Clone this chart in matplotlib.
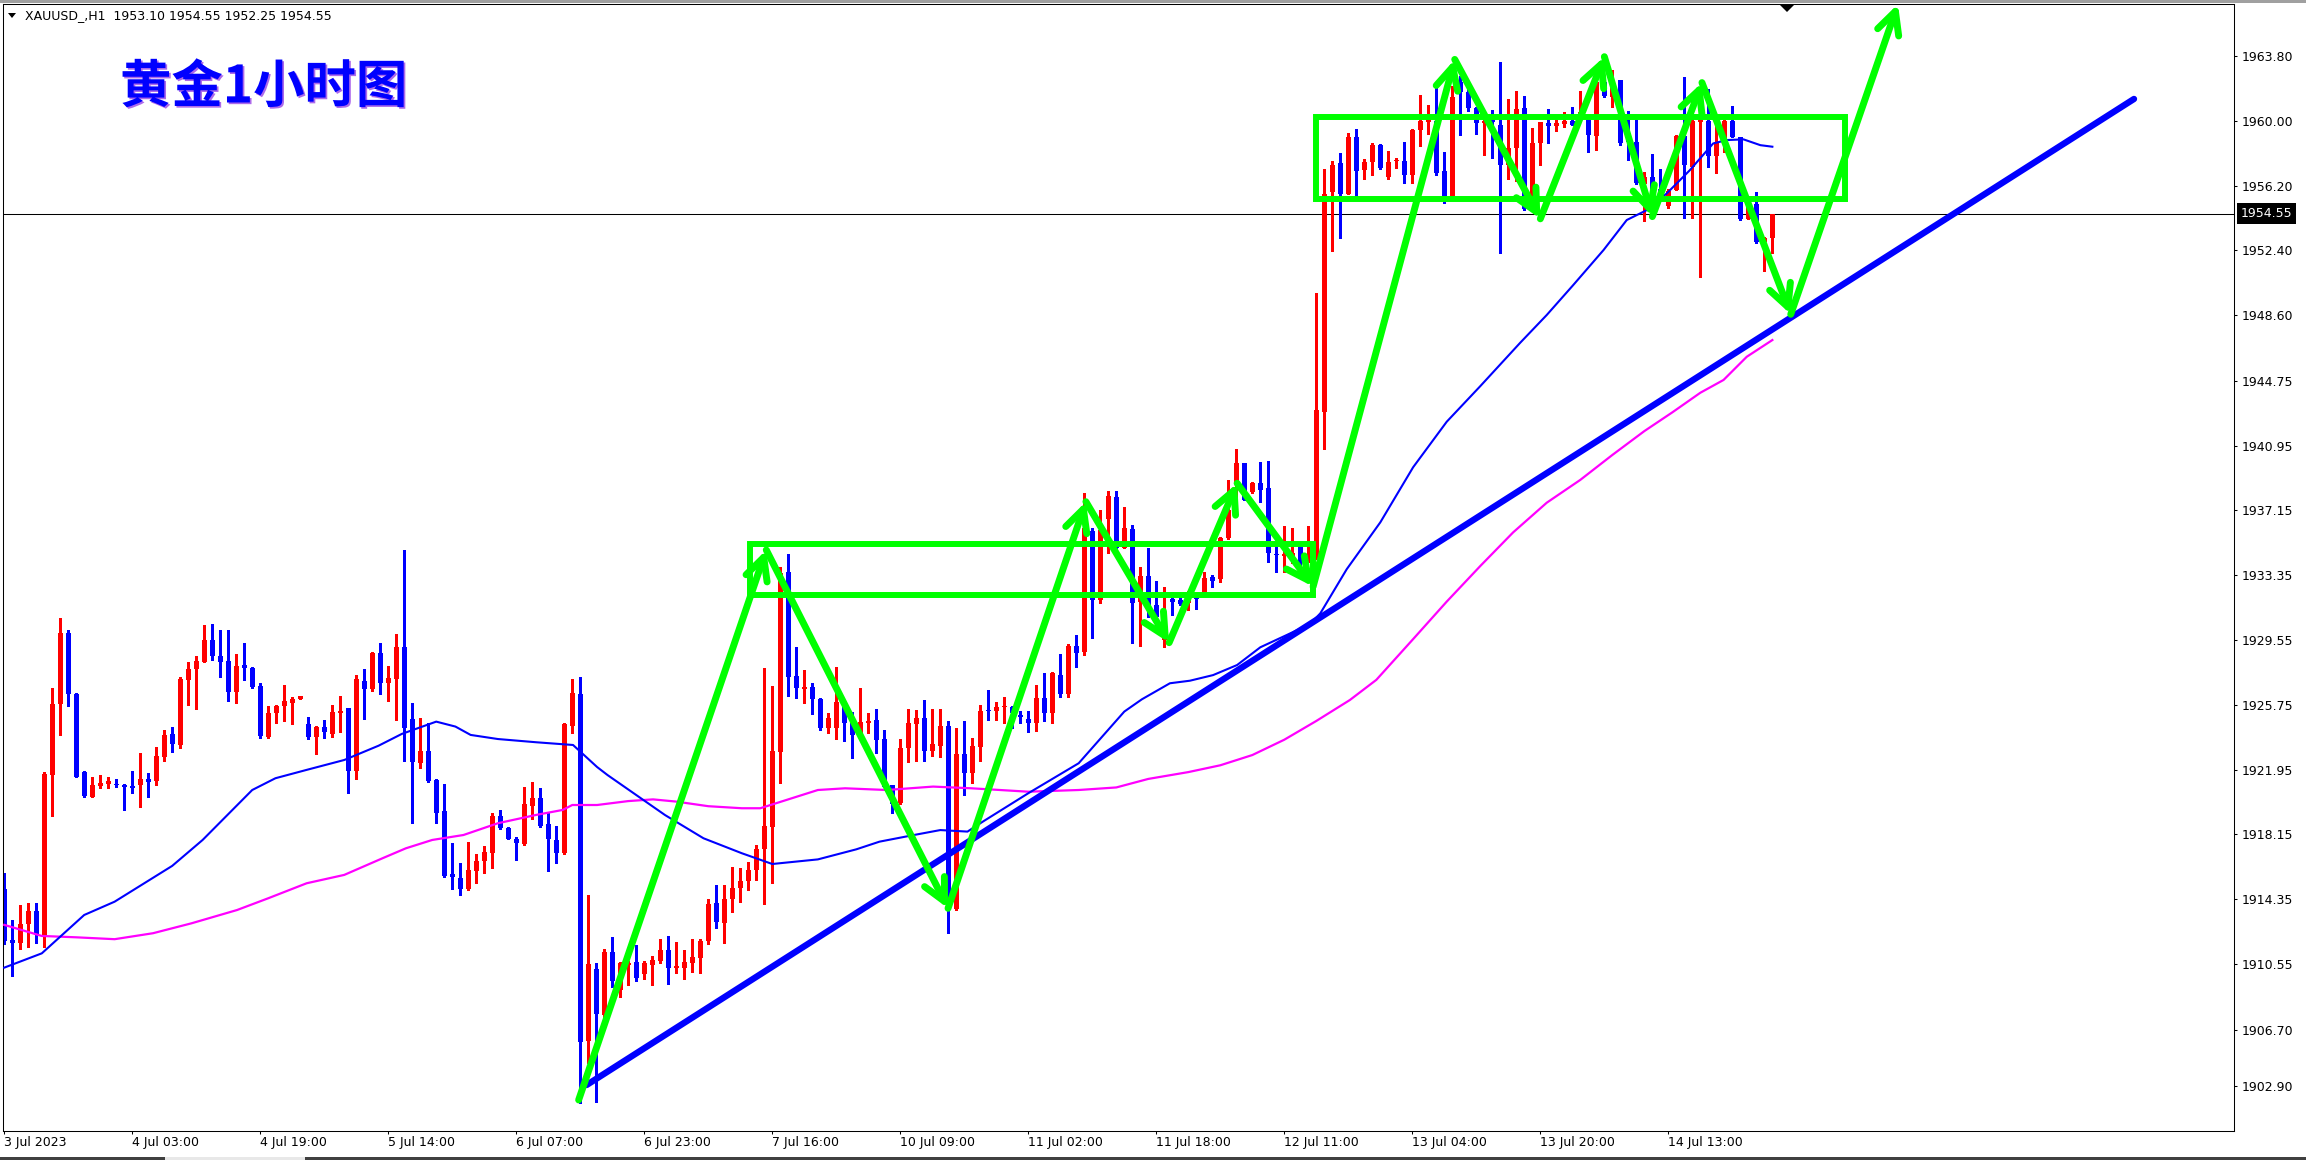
import matplotlib
matplotlib.use("Agg")
import matplotlib.pyplot as plt
import matplotlib.patheffects as pe
from matplotlib.patches import Rectangle, Polygon

# hourly bars, XAUUSD
opens = [
    1914.95, 1911.96, 1911.80, 1912.90, 1913.66, 1912.19, 1921.63, 1925.80, 1929.98, 1926.38,
    1921.81, 1920.36, 1920.99, 1921.10, 1921.10, 1921.05, 1920.99, 1921.07, 1921.40, 1921.28,
    1922.71, 1924.02, 1923.41, 1927.20, 1927.83, 1928.28, 1929.55, 1928.61, 1928.34, 1926.52,
    1928.09, 1927.93, 1926.85, 1923.88, 1925.25, 1925.68, 1925.88, 1926.11, 1924.63, 1923.88,
    1924.47, 1924.02, 1925.29, 1925.54, 1921.89, 1927.17, 1926.66, 1928.81, 1927.05, 1927.26,
    1929.16, 1924.90, 1922.36, 1923.04, 1921.34, 1919.52, 1915.83, 1915.57, 1914.93, 1916.02,
    1916.59, 1917.08, 1919.23, 1918.55, 1917.90, 1917.59, 1919.83, 1920.26, 1918.74, 1917.82,
    1917.04, 1924.53, 1926.38, 1906.04, 1910.25, 1907.55, 1911.25, 1909.02, 1910.49, 1910.66,
    1909.96, 1910.49, 1910.72, 1911.36, 1910.33, 1910.33, 1910.62, 1910.91, 1911.91, 1914.12,
    1912.97, 1914.36, 1915.00, 1915.40, 1916.06, 1917.27, 1918.60, 1923.00, 1933.56, 1927.44,
    1926.65, 1926.77, 1926.09, 1924.39, 1924.39, 1925.80, 1924.76, 1923.98, 1924.70, 1924.86,
    1923.72, 1921.05, 1919.97, 1923.20, 1924.62, 1924.95, 1923.06, 1923.35, 1924.50, 1913.75,
    1922.86, 1921.77, 1923.29, 1925.44, 1925.40, 1925.60, 1925.64, 1925.15, 1924.90, 1924.70,
    1926.13, 1925.25, 1927.50, 1926.38, 1929.20, 1928.86, 1935.94, 1931.90, 1936.64, 1937.91,
    1934.92, 1936.04, 1931.80, 1933.30, 1931.60, 1929.55, 1931.93, 1931.90, 1931.70, 1932.00,
    1932.32, 1933.26, 1933.10, 1935.51, 1938.70, 1939.91, 1938.25, 1938.77, 1938.44, 1934.59,
    1934.47, 1934.43, 1935.02, 1934.34, 1934.47, 1942.93, 1955.80, 1957.54, 1955.68, 1959.05,
    1957.12, 1957.59, 1958.58, 1956.73, 1957.63, 1957.66, 1956.84, 1959.44, 1959.91, 1959.98,
    1957.08, 1955.57, 1962.30, 1961.67, 1960.74, 1959.85, 1960.20, 1959.75, 1957.40, 1958.38,
    1960.73, 1955.64, 1958.67, 1959.85, 1959.71, 1959.81, 1959.98, 1960.20, 1960.04, 1959.10,
    1962.29, 1961.41, 1962.39, 1959.30, 1958.77, 1956.30, 1956.72, 1956.00, 1955.00, 1955.94,
    1959.10, 1957.30, 1959.95, 1960.00, 1957.93, 1958.77, 1960.00, 1959.03, 1954.22, 1955.12,
    1952.90, 1953.10,
]
highs = [
    1915.90, 1913.13, 1914.00, 1914.15, 1914.15, 1921.81, 1926.76, 1930.86, 1930.14, 1926.42,
    1921.87, 1921.54, 1921.63, 1921.54, 1921.40, 1921.09, 1921.87, 1922.94, 1921.77, 1923.30,
    1924.27, 1924.47, 1927.36, 1928.28, 1928.61, 1930.43, 1930.49, 1930.14, 1930.14, 1928.73,
    1929.40, 1927.95, 1927.01, 1925.68, 1925.74, 1926.91, 1926.19, 1926.27, 1925.05, 1924.51,
    1924.86, 1925.74, 1926.27, 1925.58, 1927.50, 1927.85, 1928.87, 1929.40, 1928.03, 1929.90,
    1934.83, 1925.84, 1924.96, 1924.66, 1921.38, 1921.11, 1917.63, 1916.45, 1917.72, 1917.00,
    1917.47, 1919.42, 1919.58, 1918.60, 1918.02, 1920.95, 1921.24, 1920.85, 1919.38, 1918.64,
    1924.70, 1927.28, 1927.40, 1914.60, 1910.62, 1911.42, 1912.11, 1910.68, 1910.70, 1911.66,
    1910.72, 1911.01, 1911.99, 1912.19, 1911.83, 1911.36, 1911.99, 1911.99, 1914.35, 1915.18,
    1915.20, 1916.25, 1916.20, 1916.50, 1917.50, 1927.89, 1926.85, 1933.85, 1934.59, 1929.12,
    1927.79, 1927.05, 1926.15, 1925.25, 1927.98, 1925.87, 1925.35, 1926.71, 1925.25, 1925.48,
    1924.27, 1921.05, 1923.72, 1925.48, 1925.44, 1926.03, 1925.48, 1925.48, 1924.82, 1924.37,
    1924.82, 1923.78, 1925.74, 1926.62, 1925.89, 1926.19, 1925.70, 1925.40, 1925.40, 1926.91,
    1927.60, 1927.69, 1928.73, 1929.31, 1929.84, 1938.15, 1936.14, 1937.17, 1938.29, 1938.29,
    1937.33, 1936.29, 1933.85, 1934.92, 1933.00, 1932.67, 1932.38, 1932.10, 1932.40, 1932.30,
    1933.55, 1933.36, 1935.57, 1938.93, 1940.73, 1939.95, 1938.83, 1940.00, 1940.06, 1935.02,
    1936.23, 1936.10, 1935.12, 1936.23, 1949.89, 1957.19, 1957.66, 1958.12, 1959.28, 1959.51,
    1957.77, 1958.70, 1958.63, 1958.24, 1957.82, 1958.75, 1959.51, 1961.53, 1960.90, 1962.13,
    1958.19, 1962.06, 1962.64, 1961.95, 1960.79, 1960.20, 1960.63, 1963.46, 1961.25, 1961.74,
    1961.45, 1959.55, 1959.94, 1960.67, 1960.04, 1960.53, 1960.82, 1961.74, 1960.34, 1962.78,
    1962.39, 1962.97, 1962.39, 1960.60, 1960.04, 1957.00, 1958.05, 1957.15, 1956.00, 1959.16,
    1962.58, 1961.51, 1961.00, 1961.84, 1960.00, 1960.04, 1960.86, 1959.07, 1955.16, 1955.82,
    1953.20, 1954.55,
]
lows = [
    1911.70, 1909.85, 1911.43, 1911.57, 1911.76, 1911.57, 1919.23, 1923.98, 1925.70, 1921.54,
    1920.32, 1920.32, 1920.85, 1920.85, 1920.91, 1919.58, 1920.56, 1919.78, 1920.36, 1921.05,
    1922.47, 1922.98, 1923.20, 1925.74, 1925.50, 1928.28, 1928.38, 1927.40, 1925.99, 1925.88,
    1927.20, 1926.72, 1923.82, 1923.78, 1924.70, 1924.82, 1924.63, 1926.11, 1923.73, 1922.86,
    1923.78, 1923.88, 1924.18, 1920.60, 1921.40, 1924.92, 1926.56, 1926.38, 1925.99, 1924.86,
    1922.47, 1918.80, 1922.03, 1921.24, 1918.80, 1915.67, 1914.93, 1914.60, 1914.89, 1915.32,
    1915.87, 1916.16, 1918.45, 1917.86, 1916.65, 1917.53, 1919.03, 1918.60, 1916.02, 1916.45,
    1917.00, 1924.12, 1902.37, 1904.74, 1902.47, 1907.45, 1909.21, 1908.63, 1909.31, 1909.57,
    1909.64, 1909.31, 1910.58, 1909.37, 1910.04, 1909.64, 1910.10, 1909.99, 1911.70, 1912.67,
    1911.80, 1913.60, 1914.20, 1914.90, 1915.47, 1914.05, 1915.28, 1921.14, 1926.26, 1926.13,
    1925.83, 1925.19, 1924.27, 1924.07, 1923.72, 1923.65, 1922.61, 1923.84, 1924.07, 1922.90,
    1920.91, 1919.38, 1919.93, 1922.41, 1922.47, 1922.47, 1922.75, 1922.67, 1912.38, 1913.71,
    1920.46, 1921.18, 1922.47, 1924.86, 1924.86, 1924.66, 1924.41, 1924.70, 1924.17, 1924.23,
    1924.82, 1924.66, 1926.23, 1926.19, 1927.95, 1928.67, 1929.65, 1931.74, 1934.67, 1934.92,
    1934.92, 1929.35, 1929.20, 1930.92, 1930.13, 1929.12, 1931.01, 1931.60, 1931.30, 1931.37,
    1932.28, 1932.67, 1932.97, 1935.47, 1937.02, 1937.76, 1938.15, 1937.66, 1934.14, 1933.55,
    1933.55, 1934.05, 1933.95, 1934.14, 1934.30, 1940.73, 1952.39, 1953.13, 1955.68, 1955.57,
    1956.57, 1956.84, 1957.19, 1956.61, 1957.26, 1956.38, 1956.33, 1958.51, 1959.21, 1956.84,
    1955.17, 1955.57, 1959.16, 1960.56, 1959.21, 1957.99, 1957.80, 1952.22, 1956.56, 1956.48,
    1954.76, 1955.60, 1957.40, 1958.67, 1959.42, 1959.65, 1959.75, 1960.00, 1958.19, 1958.28,
    1961.41, 1960.82, 1958.58, 1957.70, 1956.30, 1954.14, 1955.06, 1955.45, 1954.90, 1955.94,
    1954.28, 1954.28, 1950.81, 1957.27, 1956.95, 1958.19, 1959.07, 1954.18, 1954.22, 1952.81,
    1951.20, 1952.25,
]
closes = [
    1911.90, 1911.80, 1912.90, 1913.66, 1912.23, 1921.71, 1925.80, 1929.98, 1926.38, 1921.54,
    1920.40, 1921.05, 1921.18, 1921.28, 1921.03, 1920.95, 1920.89, 1921.40, 1921.24, 1922.75,
    1924.00, 1923.45, 1927.26, 1927.85, 1928.34, 1929.55, 1928.61, 1928.28, 1926.52, 1928.03,
    1927.89, 1926.81, 1923.92, 1925.25, 1925.68, 1925.97, 1926.09, 1926.27, 1923.88, 1924.47,
    1924.18, 1925.33, 1925.33, 1921.87, 1927.24, 1926.66, 1928.81, 1927.05, 1927.34, 1929.16,
    1924.37, 1922.42, 1923.04, 1921.28, 1919.42, 1915.71, 1915.63, 1914.93, 1916.06, 1916.59,
    1917.14, 1919.23, 1918.50, 1917.90, 1917.63, 1919.93, 1920.26, 1918.66, 1917.86, 1917.08,
    1924.63, 1926.46, 1905.99, 1910.55, 1907.61, 1911.25, 1909.57, 1910.62, 1910.60, 1909.74,
    1910.60, 1910.78, 1911.36, 1910.33, 1910.43, 1910.66, 1910.95, 1911.89, 1914.06, 1913.01,
    1914.36, 1915.00, 1915.40, 1916.06, 1917.27, 1918.64, 1923.06, 1933.46, 1927.36, 1926.71,
    1926.77, 1926.09, 1924.39, 1924.95, 1925.93, 1924.66, 1923.98, 1924.76, 1924.80, 1923.68,
    1920.95, 1919.93, 1923.20, 1924.70, 1924.95, 1923.06, 1923.45, 1924.50, 1914.50, 1922.86,
    1921.77, 1923.33, 1925.40, 1925.40, 1925.60, 1925.64, 1925.25, 1925.01, 1924.66, 1926.13,
    1925.29, 1927.63, 1926.38, 1929.20, 1928.77, 1936.10, 1931.90, 1936.00, 1937.99, 1934.92,
    1936.10, 1931.70, 1933.30, 1931.50, 1930.92, 1931.11, 1931.80, 1931.66, 1932.00, 1931.93,
    1933.16, 1933.03, 1935.51, 1937.17, 1939.91, 1937.76, 1938.77, 1938.35, 1934.63, 1934.53,
    1934.59, 1934.63, 1934.05, 1934.47, 1943.05, 1955.73, 1957.42, 1955.68, 1959.05, 1957.08,
    1957.59, 1958.58, 1957.26, 1957.59, 1957.70, 1956.84, 1959.44, 1959.98, 1960.09, 1956.96,
    1955.57, 1961.37, 1961.67, 1960.74, 1959.86, 1960.00, 1959.90, 1957.40, 1958.38, 1960.67,
    1954.80, 1958.67, 1959.94, 1959.71, 1959.85, 1959.98, 1959.75, 1960.50, 1959.16, 1962.29,
    1961.45, 1962.39, 1958.71, 1958.77, 1956.37, 1956.70, 1955.94, 1955.80, 1955.90, 1959.10,
    1957.40, 1960.00, 1960.00, 1957.93, 1958.77, 1960.00, 1959.07, 1954.22, 1955.12, 1952.89,
    1953.10, 1954.55,
]

# moving averages, sampled along the drawn curves (bar index, price)
ma_fast_x = [0, 4.7, 10, 13.8, 21, 24.8, 31, 33.9, 37.8, 42.5, 46.8, 49.7, 54, 56.4, 58.3,
             61.7, 66.5, 71.1, 74.1, 75.4, 82.6, 87.4, 92.2, 96, 101.7, 106.5, 109.4, 113.7,
             117, 120.4, 122.3, 128, 134.3, 140, 142.2, 145.7, 148.2, 151.1, 154.1, 157,
             160.3, 163.2, 164.5, 167.8, 172, 176.1, 180.3, 184.5, 189.5, 192.8, 196.1,
             199.9, 202.8, 205.3, 207.8, 210.7, 213.6, 215.3, 217.4, 219.5, 221]
ma_fast_y = [1910.33, 1911.17, 1913.42, 1914.20, 1916.30, 1917.82, 1920.75, 1921.44, 1921.93,
             1922.51, 1923.35, 1924.04, 1924.76, 1924.47, 1923.98, 1923.74, 1923.55, 1923.39,
             1922.10, 1921.63, 1919.28, 1917.92, 1917.04, 1916.41, 1916.68, 1917.27, 1917.72,
             1918.11, 1918.40, 1918.31, 1918.89, 1920.56, 1922.32, 1925.35, 1926.07, 1927.01,
             1927.16, 1927.49, 1928.08, 1929.12, 1929.84, 1930.48, 1931.11, 1933.70, 1936.45,
             1939.68, 1942.35, 1944.44, 1946.99, 1948.61, 1950.36, 1952.42, 1954.18, 1954.76,
             1955.74, 1957.11, 1958.67, 1958.87, 1958.91, 1958.57, 1958.48]
ma_slow_x = [0, 4.7, 9, 13.8, 18.6, 23.4, 29.1, 33, 37.8, 42.5, 47.3, 50.2, 53.5, 57.4, 61.7,
             66.5, 69.8, 71, 74.1, 78, 81.1, 84, 88, 92.2, 94.5, 98, 101.7, 105.1, 110.3,
             116.1, 120.9, 128, 134.3, 139, 143, 148, 152, 156, 160, 164, 168.2, 171.5,
             176.1, 180.3, 184.5, 188.6, 192.8, 197, 201, 205, 208.5, 212, 214.9, 217.8, 221]
ma_slow_y = [1912.84, 1912.19, 1912.11, 1912.00, 1912.35, 1912.93, 1913.71, 1914.40, 1915.28,
             1915.77, 1916.75, 1917.33, 1917.82, 1918.11, 1918.80, 1919.29, 1919.58, 1919.87,
             1919.87, 1920.10, 1920.20, 1920.07, 1919.80, 1919.68, 1919.68, 1920.20, 1920.75,
             1920.85, 1920.75, 1920.95, 1920.85, 1920.65, 1920.75, 1920.90, 1921.40, 1921.80,
             1922.20, 1922.80, 1923.70, 1924.80, 1926.03, 1927.21, 1929.60, 1931.80, 1933.89,
             1935.86, 1937.60, 1938.94, 1940.40, 1941.80, 1942.90, 1944.05, 1944.80, 1946.16,
             1947.14]

# hand-drawn objects
trend_x = [72.8, 266.2]
trend_y = [1903.45, 1961.28]
box_x0 = [93.25, 164.0]
box_x1 = [163.6, 230.1]
box_lo = [1932.16, 1955.40]
box_hi = [1935.18, 1960.22]
path_x = [71.8, 95.25, 117.97, 135.2, 145.6, 154.1, 163.6, 181.3, 192.0, 200.0, 206.0,
          212.2, 223.3, 236.7]
path_y = [1902.57, 1934.83, 1913.81, 1937.66, 1929.39, 1938.74, 1932.68, 1963.6, 1954.25,
          1963.76, 1954.38, 1962.24, 1948.65, 1966.85]

xtick_bars = list(range(0, 209, 16))
xtick_labels = ['3 Jul 2023', '4 Jul 03:00', '4 Jul 19:00', '5 Jul 14:00', '6 Jul 07:00',
                '6 Jul 23:00', '7 Jul 16:00', '10 Jul 09:00', '11 Jul 02:00', '11 Jul 18:00',
                '12 Jul 11:00', '13 Jul 04:00', '13 Jul 20:00', '14 Jul 13:00']
ytick_pos = [1963.80, 1960.00, 1956.20, 1952.40, 1948.60, 1944.75, 1940.95, 1937.15, 1933.35,
             1929.55, 1925.75, 1921.95, 1918.15, 1914.35, 1910.55, 1906.70, 1903.40]
ytick_labels = ['1963.80', '1960.00', '1956.20', '1952.40', '1948.60', '1944.75', '1940.95',
                '1937.15', '1933.35', '1929.55', '1925.75', '1921.95', '1918.15', '1914.35',
                '1910.55', '1906.70', '1902.90']

UP, DOWN = '#ff0000', '#0000ff'
LIME = '#00ff00'

W, H = 2306, 1160
plt.rcParams['font.family'] = ['DejaVu Sans', 'Noto Sans CJK SC']
fig = plt.figure(figsize=(W / 100, H / 100), dpi=100)
ax = fig.add_axes([3 / W, 1 - 1131 / H, (2234 - 3) / W, (1131 - 4) / H])
ax.set_xlim(-0.15, 278.7)
ax.set_ylim(1900.75, 1966.85)

# candles
xs = list(range(len(opens)))
cols = [UP if c >= o else DOWN for o, c in zip(opens, closes)]
ax.vlines(xs, lows, highs, colors=cols, lw=0.75, antialiased=False, zorder=2)
bottoms = [min(o, c) for o, c in zip(opens, closes)]
heights = [max(abs(c - o), 0.07) for o, c in zip(opens, closes)]
ax.bar(xs, heights, bottom=bottoms, width=0.625, color=cols, linewidth=0,
       antialiased=False, zorder=2)

ax.axhline(closes[-1], color='black', lw=0.75, zorder=1)

ax.plot(ma_slow_x, ma_slow_y, color='#ff00ff', lw=1.6, zorder=3)
ax.plot(ma_fast_x, ma_fast_y, color='#0000ff', lw=1.5, zorder=3)
ax.plot(trend_x, trend_y, color='#0000ff', lw=4.6, solid_capstyle='round', zorder=4)

for x0, x1, lo, hi in zip(box_x0, box_x1, box_lo, box_hi):
    ax.add_patch(Rectangle((x0, lo), x1 - x0, hi - lo, fill=False, edgecolor=LIME,
                           lw=4.3, zorder=5))

for i in range(len(path_x) - 1):
    ax.annotate('', xy=(path_x[i + 1], path_y[i + 1]), xytext=(path_x[i], path_y[i]),
                arrowprops=dict(arrowstyle='->,head_length=16,head_width=8',
                                mutation_scale=1, color=LIME, lw=5, shrinkA=0, shrinkB=0,
                                capstyle='round', joinstyle='round'),
                annotation_clip=False, zorder=6)

# axes look
for sp in ax.spines.values():
    sp.set_linewidth(0.75)
    sp.set_color('black')
ax.yaxis.tick_right()
ax.set_yticks(ytick_pos)
ax.set_yticklabels(ytick_labels)
ax.set_xticks(xtick_bars)
ax.set_xticklabels(xtick_labels, ha='left')
ax.tick_params(axis='y', right=True, left=False, length=2.2, width=0.75, pad=3.2,
               labelsize=9)
ax.tick_params(axis='x', length=2.2, width=0.75, pad=1.5, labelsize=9)

# last price tag
ax.annotate(f'{closes[-1]:.2f}', xy=(1, closes[-1]), xycoords=('axes fraction', 'data'),
            xytext=(7, 0), textcoords='offset pixels', ha='left', va='center',
            fontsize=9, color='white', annotation_clip=False,
            bbox=dict(boxstyle='square,pad=0.3', fc='black', ec='none'))

# header line and title
fig.text(25 / W, 1 - 16 / H,
         f'XAUUSD_,H1  {opens[-1]:.2f} {highs[-1]:.2f} {lows[-1]:.2f} {closes[-1]:.2f}',
         fontsize=9, va='center', ha='left')
fig.add_artist(Polygon([(8 / W, 1 - 13 / H), (16 / W, 1 - 13 / H), (12 / W, 1 - 18 / H)],
                       closed=True, fc='black', ec='none', transform=fig.transFigure))
fig.add_artist(Polygon([(1779 / W, 1 - 4 / H), (1795 / W, 1 - 4 / H), (1787 / W, 1 - 12 / H)],
                       closed=True, fc='black', ec='none', transform=fig.transFigure))
fig.text(120 / W, 1 - 87 / H, '黄金1小时图', fontsize=37, fontweight='bold',
         color='#0000ff', family=['Noto Sans CJK SC', 'DejaVu Sans'], va='center', ha='left',
         path_effects=[pe.withSimplePatchShadow(offset=(1.2, -1.2),
                                                 shadow_rgbFace='#8a2be2', alpha=0.7)])

# window frame bits
fig.add_artist(Rectangle((0, 1 - 2.5 / H), 1, 2.5 / H, fc='#a0a0a0', ec='none',
                         transform=fig.transFigure))
fig.add_artist(Rectangle((0, 0), 1, 3 / H, fc='#404040', ec='none',
                         transform=fig.transFigure))
fig.add_artist(Rectangle((165 / W, 0), 140 / W, 3 / H, fc='#e8e8e8', ec='none',
                         transform=fig.transFigure))

fig.savefig('out.png', dpi=100, facecolor='white')
